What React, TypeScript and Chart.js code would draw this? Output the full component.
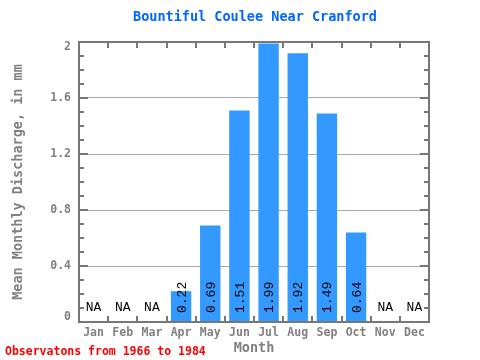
import React, { useEffect, useRef } from "react";
import { Chart, registerables } from "chart.js";

Chart.register(...registerables);

const months = ["Jan", "Feb", "Mar", "Apr", "May", "Jun", "Jul", "Aug", "Sep", "Oct", "Nov", "Dec"];
const discharge: (number | null)[] = [null, null, null, 0.22, 0.69, 1.51, 1.99, 1.92, 1.49, 0.64, null, null];
const valueLabels = ["NA", "NA", "NA", "0.22", "0.69", "1.51", "1.99", "1.92", "1.49", "0.64", "NA", "NA"];
const yTickValues = [0, 0.4, 0.8, 1.2, 1.6, 2];
const yTickLabels = ["0", "0.4", "0.8", "1.2", "1.6", "2"];
const titleText = "Bountiful Coulee Near Cranford";
const xTitleText = "Month";
const yTitleText = "Mean Monthly Discharge, in mm";
const footerText = "Observatons from 1966 to 1984";

const AXIS = "#777777";
const TEXT_GRAY = "#808080";
const MONO_BOLD = "bold 11.5px 'DejaVu Sans Mono', monospace";

const decorPlugin = {
  id: "decor",
  afterDatasetsDraw(chart: any) {
    const ctx = chart.ctx as CanvasRenderingContext2D;
    const area = chart.chartArea;
    const xs = chart.scales.x;
    const ys = chart.scales.y;
    ctx.save();

    // value labels
    const meta = chart.getDatasetMeta(0);
    for (let i = 0; i < months.length; i++) {
      const cx = xs.getPixelForValue(i);
      const label = valueLabels[i];
      ctx.fillStyle = "#000000";
      ctx.font = "13px 'Liberation Mono', monospace";
      if (discharge[i] === null) {
        ctx.textAlign = "center";
        ctx.textBaseline = "middle";
        ctx.fillText(label, cx, ys.getPixelForValue(0) - 14);
      } else {
        const bx = meta.data[i] ? meta.data[i].x : cx;
        ctx.save();
        ctx.translate(bx, ys.getPixelForValue(0) - 9);
        ctx.rotate(-Math.PI / 2);
        ctx.textAlign = "left";
        ctx.textBaseline = "middle";
        ctx.fillText(label, 0, 1);
        ctx.restore();
      }
    }

    // frame
    ctx.strokeStyle = AXIS;
    ctx.lineWidth = 2;
    ctx.strokeRect(area.left, area.top, area.right - area.left, area.bottom - area.top);

    // y minor/major ticks on left and right
    ctx.lineWidth = 2;
    for (let k = 0; k <= 20; k++) {
      const v = k / 10;
      const py = Math.round(ys.getPixelForValue(v));
      const major = k % 4 === 0;
      const len = major ? 9 : 5;
      ctx.beginPath();
      ctx.moveTo(area.left, py);
      ctx.lineTo(area.left + len, py);
      ctx.moveTo(area.right, py);
      ctx.lineTo(area.right - len, py);
      ctx.stroke();
    }

    // x category boundary ticks top and bottom
    const step = (area.right - area.left) / months.length;
    for (let i = 1; i < months.length; i++) {
      const px = Math.round(area.left + step * i);
      ctx.beginPath();
      ctx.moveTo(px, area.bottom);
      ctx.lineTo(px, area.bottom - 6);
      ctx.moveTo(px, area.top);
      ctx.lineTo(px, area.top + 6);
      ctx.stroke();
    }

    // x tick labels
    ctx.fillStyle = TEXT_GRAY;
    ctx.font = MONO_BOLD;
    ctx.textAlign = "center";
    ctx.textBaseline = "middle";
    for (let i = 0; i < months.length; i++) {
      ctx.fillText(months[i], xs.getPixelForValue(i), area.bottom + 11);
    }

    // y tick labels
    ctx.textAlign = "right";
    for (let i = 0; i < yTickValues.length; i++) {
      let py = ys.getPixelForValue(yTickValues[i]);
      if (i === 0) py -= 5;
      if (i === yTickValues.length - 1) py += 5;
      ctx.fillText(yTickLabels[i], area.left - 8, py);
    }

    // axis titles
    ctx.font = "bold 13.5px 'DejaVu Sans Mono', monospace";
    ctx.textAlign = "center";
    ctx.fillText(xTitleText, (area.left + area.right) / 2, 348);
    ctx.save();
    ctx.translate(18, (area.top + area.bottom) / 2);
    ctx.rotate(-Math.PI / 2);
    ctx.fillText(yTitleText, 0, 0);
    ctx.restore();

    // title
    ctx.fillStyle = "#0066ff";
    ctx.font = "bold 13.5px 'DejaVu Sans Mono', monospace";
    ctx.fillText(titleText, 255, 17);

    // footer
    ctx.fillStyle = "#ff0000";
    ctx.font = "bold 11.5px 'DejaVu Sans Mono', monospace";
    ctx.textAlign = "left";
    ctx.fillText(footerText, 5, 352);

    ctx.restore();
  },
};

export default function App() {
  const canvasRef = useRef<HTMLCanvasElement | null>(null);

  useEffect(() => {
    const canvas = canvasRef.current;
    if (!canvas) return;
    const chart = new Chart(canvas, {
      type: "bar",
      data: {
        labels: months,
        datasets: [
          {
            data: discharge as any,
            backgroundColor: "#3399ff",
            borderWidth: 0,
            barPercentage: 0.7,
            categoryPercentage: 1,
          },
        ],
      },
      options: {
        animation: false,
        responsive: false,
        maintainAspectRatio: false,
        devicePixelRatio: 1,
        layout: { padding: { top: 42, right: 51, left: 0, bottom: 0 } },
        plugins: {
          legend: { display: false },
          title: { display: false },
          tooltip: { enabled: false },
        },
        scales: {
          x: {
            display: true,
            grid: { display: false, drawTicks: false },
            border: { display: false },
            ticks: { display: false },
            afterFit: (s: any) => {
              s.height = 38;
            },
          },
          y: {
            display: true,
            min: 0,
            max: 2,
            grid: { color: "#aaaaaa", lineWidth: 1, drawTicks: false },
            border: { display: false },
            ticks: { display: false, stepSize: 0.4 },
            afterFit: (s: any) => {
              s.width = 79;
            },
          },
        },
      },
      plugins: [decorPlugin],
    });
    return () => chart.destroy();
  }, []);

  return (
    <div style={{ position: "fixed", left: 0, top: 0, width: 480, height: 360, background: "#ffffff" }}>
      <canvas ref={canvasRef} width={480} height={360} style={{ width: 480, height: 360, display: "block" }} />
    </div>
  );
}
